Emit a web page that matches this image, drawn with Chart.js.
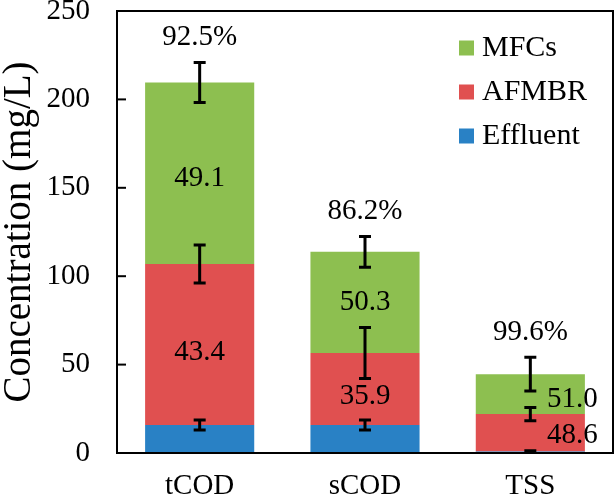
<!DOCTYPE html>
<html>
<head>
<meta charset="utf-8">
<script src="https://cdn.jsdelivr.net/npm/chart.js@4.4.1/dist/chart.umd.min.js"></script>
<style>
  html, body { margin: 0; padding: 0; background: #fff; }
  #wrap { width: 615px; height: 495px; }
</style>
</head>
<body>
<div id="wrap"><canvas id="myChart" width="615" height="495"></canvas></div>
<script>
var categories = ['tCOD', 'sCOD', 'TSS'];
// segment heights (mg/L), stacked bottom to top
var effluent = [15.8, 15.8, 0.8];
var afmbr = [91.1, 40.8, 21.2];
var mfcs = [102.7, 57.2, 22.6];
// error bar half-widths at the top of each segment
var effluentErr = [2.8, 2.8, 0.5];
var afmbrErr = [10.7, 14.4, 3.8];
var mfcsErr = [11.3, 8.7, 9.6];
// removal labels
var afmbrLabels = ['43.4', '35.9', '48.6'];
var mfcsLabels = ['49.1', '50.3', '51.0'];
var totalLabels = ['92.5%', '86.2%', '99.6%'];
var yTicks = [0, 50, 100, 150, 200, 250];

var serif = 'Liberation Serif, Times New Roman, serif';

var extras = {
  id: 'extras',
  afterDatasetsDraw: function(chart) {
    var ctx = chart.ctx;
    var area = chart.chartArea;
    var x = chart.scales.x, y = chart.scales.y;
    ctx.save();

    // frame + inward ticks
    ctx.strokeStyle = '#000';
    ctx.lineWidth = 2;
    ctx.strokeRect(area.left, area.top, area.right - area.left, area.bottom - area.top);
    yTicks.forEach(function(v) {
      var py = y.getPixelForValue(v);
      ctx.beginPath();
      ctx.moveTo(area.left, py);
      ctx.lineTo(area.left + 9, py);
      ctx.stroke();
    });

    // error bars
    var errs = [effluentErr, afmbrErr, mfcsErr];
    ctx.lineWidth = 3;
    categories.forEach(function(c, i) {
      var px = x.getPixelForValue(i);
      var base = 0;
      chart.data.datasets.forEach(function(ds, d) {
        base += ds.data[i];
        var e = errs[d][i];
        var top = y.getPixelForValue(base + e), bot = y.getPixelForValue(base - e);
        ctx.beginPath();
        ctx.moveTo(px, top); ctx.lineTo(px, bot);
        ctx.moveTo(px - 6, top); ctx.lineTo(px + 6, top);
        ctx.moveTo(px - 6, bot); ctx.lineTo(px + 6, bot);
        ctx.stroke();
      });
    });

    // value labels (small pixel nudges to sit like the original)
    ctx.fillStyle = '#000';
    ctx.font = '29px ' + serif;
    ctx.textAlign = 'center';
    ctx.textBaseline = 'middle';
    var dx = [0, 0, 42];
    var dyA = [8, 7, 3], dyM = [5, 0, 5];
    categories.forEach(function(c, i) {
      var px = x.getPixelForValue(i);
      var e1 = effluent[i], a1 = e1 + afmbr[i], m1 = a1 + mfcs[i];
      ctx.fillText(afmbrLabels[i], px + dx[i], y.getPixelForValue((e1 + a1) / 2) + dyA[i]);
      ctx.fillText(mfcsLabels[i], px + dx[i], y.getPixelForValue((a1 + m1) / 2) + dyM[i]);
      ctx.fillText(totalLabels[i], px, y.getPixelForValue(m1 + mfcsErr[i]) - 25);
    });

    // legend, top right inside the plot
    ctx.font = '30px ' + serif;
    ctx.textAlign = 'left';
    var dsList = chart.data.datasets.slice().reverse();
    dsList.forEach(function(ds, k) {
      var cy = area.top + 37 + k * 44;
      ctx.fillStyle = ds.backgroundColor;
      ctx.fillRect(area.right - 154, cy - 7.5, 15, 15);
      ctx.fillStyle = '#000';
      ctx.fillText(ds.label, area.right - 131, cy);
    });
    ctx.restore();
  }
};

var ctx = document.getElementById('myChart').getContext('2d');
var myChart = new Chart(ctx, {
  type: 'bar',
  data: {
    labels: categories,
    datasets: [
      { label: 'Effluent', data: effluent, backgroundColor: '#2981C5' },
      { label: 'AFMBR', data: afmbr, backgroundColor: '#E05050' },
      { label: 'MFCs', data: mfcs, backgroundColor: '#8DBF50' }
    ]
  },
  options: {
    responsive: false,
    animation: false,
    layout: { padding: { top: 11, right: 2, left: 0, bottom: 0 } },
    datasets: { bar: { barPercentage: 0.66, categoryPercentage: 1 } },
    plugins: { legend: { display: false }, tooltip: { enabled: false } },
    scales: {
      x: {
        stacked: true,
        grid: { display: false },
        border: { display: false },
        ticks: { color: '#000', font: { family: serif, size: 29 }, padding: 8 },
        afterFit: function(s) {
          s.height = 42;
          s.paddingLeft = 0; s.paddingRight = 0;
        }
      },
      y: {
        stacked: true,
        min: 0, max: 250,
        grid: { display: false, drawTicks: false },
        border: { display: false },
        ticks: { stepSize: 50, color: '#000', font: { family: serif, size: 29 }, padding: 27 },
        title: {
          display: true, text: 'Concentration (mg/L)', color: '#000',
          font: { family: serif, size: 39, lineHeight: 1 }, padding: { top: 0, bottom: 0 }
        },
        afterFit: function(s) {
          s.width = 117;
          s.paddingTop = 0; s.paddingBottom = 0;
        }
      }
    }
  },
  plugins: [extras]
});
</script>
</body>
</html>
